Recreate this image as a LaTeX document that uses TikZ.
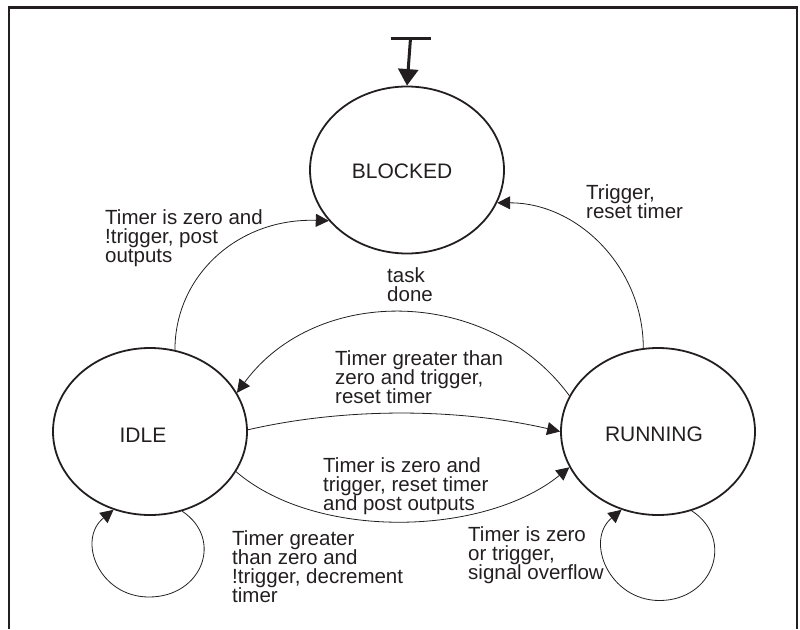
\documentclass[tikz,border=0pt]{standalone}
\usepackage{fontspec}
\setmainfont{Liberation Sans}
\usetikzlibrary{shapes.geometric,arrows.meta}
\definecolor{ink}{RGB}{35,31,32}
\newcommand\lblfont{\fontsize{20.5}{19.2}\selectfont\lineskiplimit=-50pt\relax}
\begin{document}
\begin{tikzpicture}[x=1pt,y=-1pt,
  state/.style={ellipse,draw=ink,line width=1.8pt,minimum width=194pt,minimum height=167pt,inner sep=0pt},
  stname/.style={text=ink,inner sep=0pt,font=\fontsize{21}{21}\selectfont},
  lbl/.style={anchor=north west,inner sep=0pt,align=left,text=ink,font=\lblfont},
  edge/.style={draw=ink,line width=0.8pt,-{Triangle[length=13pt,width=13pt]}},
  ]
\useasboundingbox (0,0) rectangle (800,629);
% frame
\draw[ink,line width=2.5pt] (9,629) -- (9,7.5) -- (797,7.5) -- (797,629);

% states
\node[state,label={[stname,xshift=-5pt,yshift=-1pt]center:BLOCKED}] (blocked) at (407,170) {};
\node[state,label={[stname,xshift=-7pt,yshift=-3.5pt]center:IDLE}] (idle) at (150,431.5) {};
\node[state,label={[stname,xshift=-4pt,yshift=-3pt]center:RUNNING}] (running) at (658,431.5) {};

% initial arrow
\coordinate (start) at (410.5,38.3);
\draw[ink,line width=3pt] ([xshift=-20pt]start) -- ([xshift=20pt]start);
\draw[ink,line width=3pt,-{Triangle[length=16.5pt,width=20pt]}] (start) -- (blocked.north);

% transitions
\draw[edge] (idle.73) .. controls +(0,-75) and +(-90,-3) .. (blocked.213);
\draw[edge] (running.100) .. controls +(0,-80) and +(81,0) .. (blocked.340);
\draw[edge] (running.158) .. controls +(-80,-109) and +(80,-109) .. (idle.24);
\draw[edge] (idle.1) .. controls +(100,-23) and +(-100,-23) .. (running.180);
\draw[edge] (idle.335) .. controls +(80,69) and +(-85,69) .. (running.202);

% self loops
\coordinate (idleloop) at (149,597);
\draw[edge] (idle.292) .. controls +(42,28) and +(53,0) .. (idleloop)
  .. controls +(-50,0) and +(-37,30) .. (idle.245);
\coordinate (runloop) at (659.5,600.5);
\draw[edge] (running.293) .. controls +(43.5,28.2) and +(53.8,0) .. (runloop)
  .. controls +(-50.5,0) and +(-36.9,30.6) .. (running.245);

% labels
\node[lbl] (l1) at (105,209) {Timer is zero and\\{!}trigger, post\\outputs};
\node[lbl] (l2) at (586,184) {Trigger,\\reset timer};
\node[lbl] (l3) at (387,267) {task\\done};
\node[lbl] (l4) at (335,350) {Timer greater than\\zero and trigger,\\reset timer};
\node[lbl] (l5) at (323,457) {Timer is zero and\\trigger, reset timer\\and post outputs};
\node[lbl] (l6) at (232,530) {Timer greater\\than zero and\\{!}trigger, decrement\\timer};
\node[lbl] (l7) at (468,526) {Timer is zero\\or trigger,\\signal overflow};
\end{tikzpicture}
\end{document}
